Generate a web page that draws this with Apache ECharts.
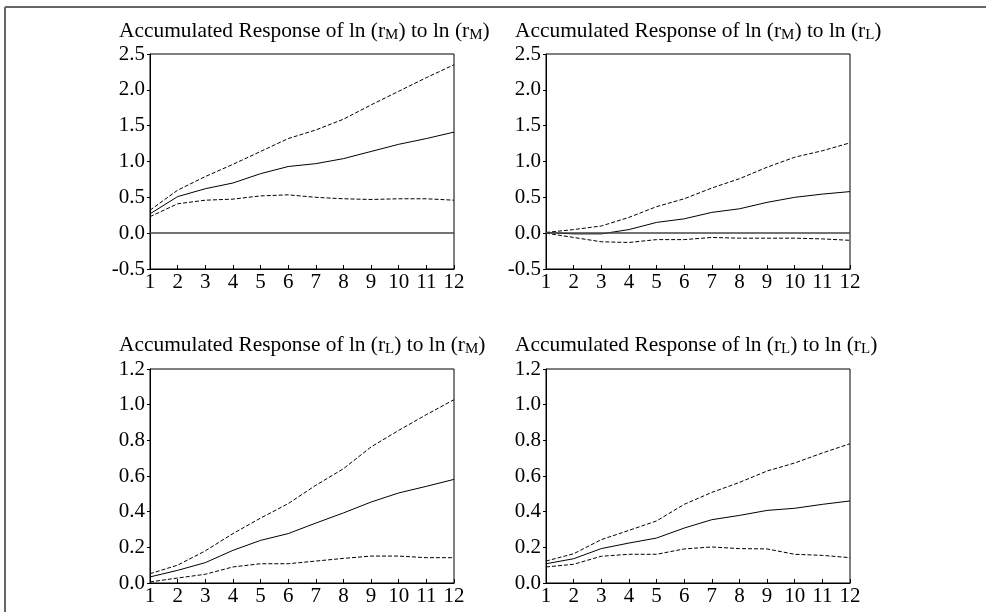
<!DOCTYPE html>
<html>
<head>
<meta charset="utf-8">
<script src="https://cdn.jsdelivr.net/npm/echarts@6/dist/echarts.min.js"></script>
<style>
html,body{margin:0;padding:0;background:#fff;}
#c{width:986px;height:612px;}
</style>
</head>
<body>
<div id="c"></div>
<script>
// Periods (x axis)
const periods = [1,2,3,4,5,6,7,8,9,10,11,12];

// Panel 1: Accumulated Response of ln(rM) to ln(rM)
const mmUpper = [0.32,0.60,0.79,0.96,1.14,1.32,1.44,1.59,1.79,1.98,2.17,2.35];
const mmResp  = [0.27,0.51,0.62,0.70,0.83,0.93,0.97,1.04,1.14,1.24,1.32,1.41];
const mmLower = [0.23,0.41,0.46,0.475,0.52,0.535,0.50,0.48,0.47,0.48,0.48,0.46];

// Panel 2: Accumulated Response of ln(rM) to ln(rL)
const mlUpper = [0.01,0.05,0.10,0.22,0.37,0.48,0.63,0.76,0.92,1.06,1.15,1.26];
const mlResp  = [0.01,-0.01,-0.01,0.05,0.15,0.20,0.29,0.34,0.43,0.50,0.545,0.58];
const mlLower = [0.00,-0.06,-0.12,-0.13,-0.09,-0.09,-0.06,-0.07,-0.07,-0.07,-0.08,-0.10];

// Panel 3: Accumulated Response of ln(rL) to ln(rM)
const lmUpper = [0.052,0.10,0.18,0.277,0.364,0.445,0.548,0.641,0.763,0.856,0.944,1.028];
const lmResp  = [0.034,0.071,0.114,0.183,0.239,0.277,0.336,0.393,0.454,0.505,0.542,0.581];
const lmLower = [0.006,0.028,0.049,0.09,0.108,0.108,0.123,0.138,0.151,0.151,0.142,0.142];

// Panel 4: Accumulated Response of ln(rL) to ln(rL)
const llUpper = [0.123,0.164,0.243,0.295,0.348,0.441,0.508,0.564,0.628,0.673,0.729,0.781];
const llResp  = [0.108,0.136,0.193,0.224,0.252,0.308,0.355,0.379,0.407,0.419,0.441,0.46];
const llLower = [0.09,0.105,0.15,0.161,0.161,0.191,0.202,0.193,0.191,0.161,0.155,0.142];

// Titles (response variable, shock variable subscripts)
const titles = [
  ['M','M'],
  ['M','L'],
  ['L','M'],
  ['L','L']
];

// y axis ranges per panel
const yMins = [-0.5,-0.5,0,0];
const yMaxs = [2.5,2.5,1.2,1.2];
const yIntervals = [0.5,0.5,0.2,0.2];

const panels = [
  [mmUpper, mmResp, mmLower],
  [mlUpper, mlResp, mlLower],
  [lmUpper, lmResp, lmLower],
  [llUpper, llResp, llLower]
];

const FONT = "'Liberation Serif','Times New Roman',serif";
const gridPos = [
  {left:150, top:54, width:304, height:215},
  {left:546, top:54, width:304, height:215},
  {left:150, top:369, width:304, height:214},
  {left:546, top:369, width:304, height:214}
];
const titlePos = [
  {left:119, top:19},
  {left:515, top:19},
  {left:119, top:333},
  {left:515, top:333}
];

const richStyle = {
  a: {fontFamily: FONT, fontSize: 21.4, color:'#000', lineHeight: 24},
  s: {fontFamily: FONT, fontSize: 15, color:'#000', lineHeight: 15, padding:[13,0,0,0], verticalAlign:'bottom'}
};

const title = titles.map((t,i)=>({
  text: '{a|Accumulated Response of ln (r}{s|' + t[0] + '}{a|) to ln (r}{s|' + t[1] + '}{a|)}',
  left: titlePos[i].left, top: titlePos[i].top, padding: 0,
  textStyle: {fontFamily: FONT, fontSize: 21.4, fontWeight:'normal', color:'#000', rich: richStyle}
}));

const grid = gridPos.map(g=>Object.assign({show:true, borderColor:'#000', borderWidth:1, backgroundColor:'transparent', containLabel:false}, g));

const xAxis = gridPos.map((g,i)=>({
  type:'value', gridIndex:i, min:1, max:12, interval:1,
  axisLine:{show:true, onZero:false, lineStyle:{color:'#000', width:1}},
  axisTick:{show:true, inside:true, length:4, lineStyle:{color:'#000'}},
  axisLabel:{show:true, margin:3, fontFamily:FONT, fontSize:21, color:'#000'},
  splitLine:{show:false}
}));

const yAxis = gridPos.map((g,i)=>({
  type:'value', gridIndex:i, min:yMins[i], max:yMaxs[i], interval:yIntervals[i],
  axisLine:{show:true, onZero:false, lineStyle:{color:'#000', width:1}},
  axisTick:{show:true, inside:false, length:3, lineStyle:{color:'#000'}},
  axisLabel:{show:true, margin:5, fontFamily:FONT, fontSize:21, color:'#000',
    formatter: v => v.toFixed(1)},
  splitLine:{show:false}
}));

const series = [];
panels.forEach((p,i)=>{
  const styles = [
    {type:[4,2], width:1},
    {type:'solid', width:1},
    {type:[4,2], width:1}
  ];
  p.forEach((vals,k)=>{
    const s = {
      type:'line', xAxisIndex:i, yAxisIndex:i, symbol:'none', silent:true,
      data: periods.map((x,j)=>[x, vals[j]]),
      lineStyle: Object.assign({color:'#000'}, styles[k]),
      animation:false
    };
    if (k===1 && yMins[i] < 0) {
      s.markLine = {silent:true, symbol:['none','none'], label:{show:false},
        lineStyle:{color:'#444', type:'solid', width:1.5}, data:[{yAxis:0}], animation:false};
    }
    series.push(s);
  });
});

const chart = echarts.init(document.getElementById('c'), null, {renderer:'canvas'});
chart.setOption({
  backgroundColor:'#fff',
  animation:false,
  title, grid, xAxis, yAxis, series,
  graphic:[
    {type:'line', shape:{x1:5, y1:7, x2:986, y2:7}, style:{stroke:'#666', lineWidth:2}, silent:true},
    {type:'line', shape:{x1:5, y1:7, x2:5, y2:612}, style:{stroke:'#666', lineWidth:2}, silent:true}
  ]
});
</script>
</body>
</html>
